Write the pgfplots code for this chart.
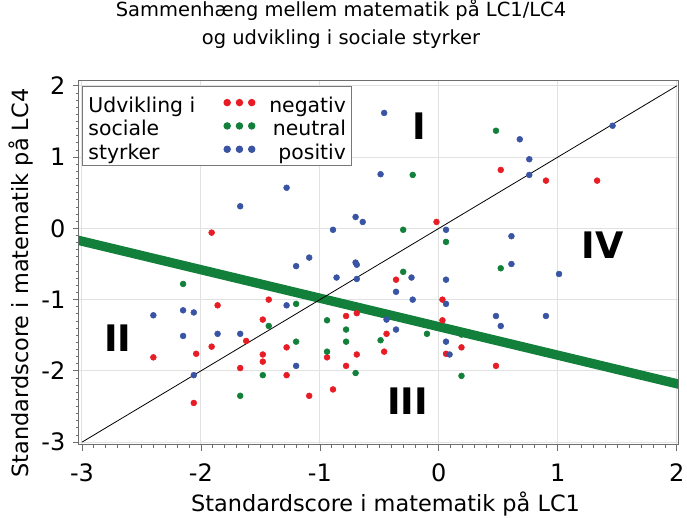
\documentclass[border=0pt]{standalone}
\usepackage{fontspec}
\setmainfont{DejaVu Sans}
\usepackage{pgfplots}
\pgfplotsset{compat=1.18}
\usetikzlibrary{calc}
\definecolor{cred}{RGB}{232,28,36}
\definecolor{cgreen}{RGB}{18,128,58}
\definecolor{cblue}{RGB}{58,84,164}
\definecolor{lgreen}{RGB}{18,128,58}
\definecolor{framec}{RGB}{110,110,110}
\definecolor{gridc}{RGB}{225,225,225}
\definecolor{legc}{RGB}{120,120,120}
\begin{document}
\begin{tikzpicture}
\begin{axis}[
  scale only axis, width=449.25pt, height=273pt,
  xmin=-3.025, xmax=2.01, ymin=-3.04, ymax=2.068,
  xtick={-3,-2,-1,0,1,2}, ytick={-3,-2,-1,0,1,2},
  minor tick num=9,
  tick align=outside, xtick pos=left, ytick pos=left,
  major tick length=4.5pt, minor tick length=2.5pt,
  grid=major, major grid style={draw=gridc, line width=0.75pt},
  axis line style={draw=framec, line width=0.75pt},
  every tick/.append style={draw=framec, line width=0.6pt},
  /pgf/number format/assume math mode=true,
  tick label style={font=\fontsize{18}{20}\selectfont},
  xticklabel style={anchor=base, yshift=-23.25pt},
  yticklabel style={anchor=east, inner sep=0pt, xshift=-5.5pt},
  xlabel={Standardscore i matematik på LC1},
  ylabel={Standardscore i matematik på LC4},
  label style={font=\fontsize{16.8}{20}\selectfont},
  xlabel style={at={(axis description cs:0.5117,-0.184)}, anchor=base},
  ylabel style={at={(axis description cs:-0.0851,0.445)}, anchor=base},
  legend columns=2,
  legend style={at={(axis description cs:0.005,0.986)}, anchor=north west,
    draw=legc, line width=0.75pt, fill=white,
    font=\fontsize{15.3}{18}\selectfont,
    inner xsep=4.5pt, inner ysep=3.5pt, row sep=0pt, column sep=0pt,
    nodes={inner sep=0pt}, cells={anchor=base west}},
]
\coordinate (BL) at (rel axis cs:0,0);
\coordinate (TR) at (rel axis cs:1,1);

% negativ
\addplot[only marks, mark=*, mark size=2.2pt, color=cred, forget plot] coordinates {
(-1.91,-0.06) (0.52,0.82) (0.90,0.67) (1.33,0.67) (-0.02,0.09)
(-1.86,-1.08) (-1.43,-1.00) (-1.48,-1.28) (-1.62,-1.58) (-1.91,-1.66)
(-2.40,-1.81) (-2.04,-1.76) (-1.48,-1.77) (-1.48,-1.87) (-1.28,-1.67)
(-1.67,-1.96) (-1.28,-2.06) (-2.06,-2.45) (-1.09,-2.35) (-0.89,-2.26)
(-0.78,-1.23) (-0.69,-1.19) (-0.94,-1.81) (-0.69,-1.77) (-0.78,-1.93)
(-0.36,-0.72) (0.03,-1.00) (-0.44,-1.48) (-0.46,-1.73) (0.03,-1.29)
(0.06,-1.76) (0.19,-1.67) (0.48,-1.93)
};
% neutral
\addplot[only marks, mark=*, mark size=2.2pt, color=cgreen, forget plot] coordinates {
(0.48,1.37) (-0.22,0.75) (-0.30,-0.02) (0.06,-0.19) (0.52,-0.56)
(-2.15,-0.78) (-1.20,-1.06) (-1.43,-1.37) (-1.20,-1.59) (-1.48,-2.06)
(-1.67,-2.35) (-0.94,-1.29) (-0.78,-1.42) (-0.78,-1.59) (-0.94,-1.73)
(-0.70,-2.03) (-0.49,-1.57) (-0.30,-0.61) (-0.10,-1.48) (0.19,-1.49)
(0.19,-2.07)
};
% positiv
\addplot[only marks, mark=*, mark size=2.2pt, color=cblue, forget plot] coordinates {
(-1.28,0.57) (-1.67,0.31) (-0.49,0.76) (-0.89,-0.02) (-0.70,0.16)
(-0.64,0.09) (-1.09,-0.41) (-1.20,-0.53) (-0.70,-0.48) (-0.69,-0.51)
(-0.46,1.62) (0.68,1.25) (0.76,0.97) (0.76,0.75) (1.46,1.44)
(0.06,-0.02) (0.61,-0.11) (0.61,-0.50) (-0.86,-0.69) (-0.69,-0.71)
(-2.40,-1.22) (-2.15,-1.15) (-2.06,-1.18) (-1.28,-1.08) (-2.15,-1.51)
(-1.86,-1.48) (-1.67,-1.48) (-2.06,-2.06) (-1.20,-1.93) (-0.23,-0.69)
(-0.36,-0.89) (-0.22,-1.00) (0.06,-0.72) (1.01,-0.64) (0.06,-1.06)
(-0.44,-1.28) (-0.36,-1.42) (0.06,-1.59) (0.09,-1.77) (0.48,-1.23)
(0.52,-1.37) (0.90,-1.23)
};
% regression line
\addplot[lgreen, line width=7pt, forget plot] coordinates {(-3.1,-0.14) (2.1,-2.22)};
% diagonal
\addplot[black, line width=0.6pt, forget plot] coordinates {(-3,-3) (2,2)};

\node[font=\fontsize{27.4}{30}\selectfont\bfseries] at (axis cs:-0.168,1.43) {I};
\node[font=\fontsize{27.4}{30}\selectfont\bfseries] at (axis cs:-2.70,-1.54) {II};
\node[font=\fontsize{27.4}{30}\selectfont\bfseries] at (axis cs:-0.264,-2.43) {III};
\node[font=\fontsize{27.4}{30}\selectfont\bfseries] at (axis cs:1.375,-0.23) {IV};

\addlegendimage{legend image code/.code={}}
\addlegendentry{\rule[-5pt]{0pt}{21pt}\makebox[101.25pt][l]{Udvikling i}}
\addlegendimage{legend image code/.code={\fill[cred] (0pt,7.5pt) circle (2.4pt); \fill[cred] (9.2pt,7.5pt) circle (2.4pt); \fill[cred] (18.4pt,7.5pt) circle (2.4pt);}}
\addlegendentry{\rule[-5pt]{0pt}{21pt}\makebox[67.9pt][r]{negativ}}
\addlegendimage{legend image code/.code={}}
\addlegendentry{\rule[-5pt]{0pt}{21pt}\makebox[101.25pt][l]{sociale}}
\addlegendimage{legend image code/.code={\fill[cgreen] (0pt,7.5pt) circle (2.4pt); \fill[cgreen] (9.2pt,7.5pt) circle (2.4pt); \fill[cgreen] (18.4pt,7.5pt) circle (2.4pt);}}
\addlegendentry{\rule[-5pt]{0pt}{21pt}\makebox[67.9pt][r]{neutral}}
\addlegendimage{legend image code/.code={}}
\addlegendentry{\rule[-5pt]{0pt}{21pt}\makebox[101.25pt][l]{styrker}}
\addlegendimage{legend image code/.code={\fill[cblue] (0pt,7.5pt) circle (2.4pt); \fill[cblue] (9.2pt,7.5pt) circle (2.4pt); \fill[cblue] (18.4pt,7.5pt) circle (2.4pt);}}
\addlegendentry{\rule[-5pt]{0pt}{21pt}\makebox[67.9pt][r]{positiv}}
\end{axis}
\node[anchor=base, font=\fontsize{14.6}{17}\selectfont] at ($(BL|-TR)+(196.5pt,48.2pt)$) {Sammenhæng mellem matematik på LC1/LC4};
\node[anchor=base, font=\fontsize{14.6}{17}\selectfont] at ($(BL|-TR)+(196.5pt,27.4pt)$) {og udvikling i sociale styrker};
\pgfresetboundingbox
\useasboundingbox ($(BL)+(-59.25pt,-54.75pt)$) rectangle ($(TR)+(6.75pt,60.75pt)$);
\end{tikzpicture}
\end{document}
